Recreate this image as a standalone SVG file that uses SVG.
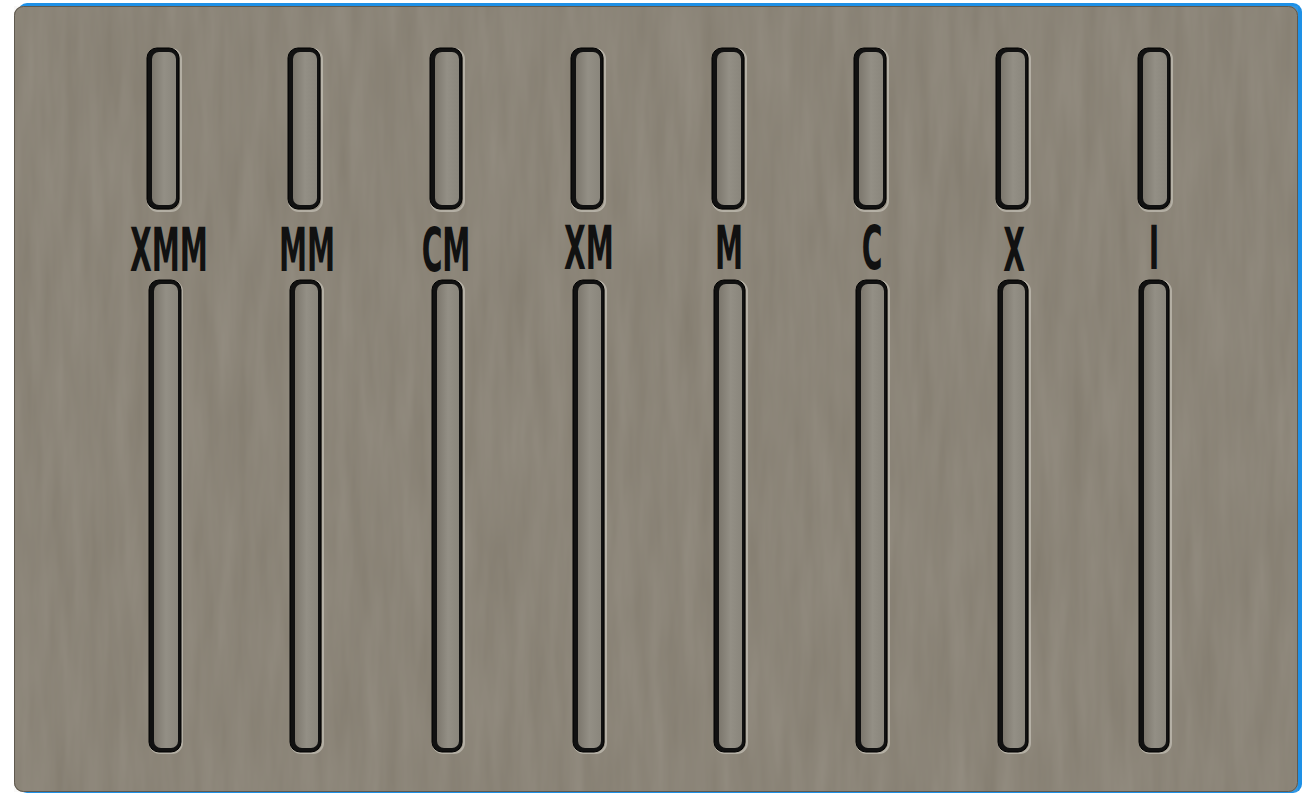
<svg xmlns="http://www.w3.org/2000/svg" width="1312" height="795" viewBox="0 0 1312 795">
<defs>
<filter id="grain" x="0" y="0" width="100%" height="100%">
<feTurbulence type="fractalNoise" baseFrequency="0.06 0.008" numOctaves="3" seed="4" result="n"/>
<feColorMatrix in="n" type="matrix" values="0 0 0 0 0.58  0 0 0 0 0.55  0 0 0 0 0.5  0 0 0 0.22 0"/>
</filter>
<linearGradient id="slotIn" x1="0" y1="0" x2="1" y2="0">
<stop offset="0" stop-color="#7c776d"/>
<stop offset="0.5" stop-color="#938f85"/>
<stop offset="1" stop-color="#8a867c"/>
</linearGradient>
<style>
.slot-hi{fill:none;stroke:#cfcbc1;stroke-width:2;opacity:0.6}
.slot-out{fill:#111;stroke:#000;stroke-width:1}
.slot-in{fill:url(#slotIn)}
.lbl{font-family:"DejaVu Sans","Liberation Sans",sans-serif;font-size:60px;font-weight:bold;fill:#111;text-anchor:middle}
</style>
</defs>
<rect x="18" y="3" width="1284" height="790" rx="9" fill="#1e90e6"/>
<rect x="14" y="6" width="1284" height="786" rx="9" fill="#847d70"/>
<rect x="14" y="6" width="1284" height="786" rx="9" filter="url(#grain)"/>
<rect x="14.5" y="6.5" width="1283" height="785" rx="9" fill="none" stroke="#5f594f" stroke-width="1"/>
<g id="col-XMM">
<rect class="slot-hi" x="148" y="49" width="33" height="162" rx="10"/>
<rect class="slot-out" x="147" y="48" width="32" height="161" rx="10"/>
<rect class="slot-in" x="152" y="52" width="24" height="153" rx="7"/>
<text class="lbl" transform="translate(169,271) scale(0.47,1)">XMM</text>
<rect class="slot-hi" x="150" y="281" width="32" height="472" rx="10"/>
<rect class="slot-out" x="149" y="280" width="32" height="472" rx="10"/>
<rect class="slot-in" x="154" y="284" width="24" height="464" rx="7"/>
</g>
<g id="col-MM">
<rect class="slot-hi" x="289" y="49" width="33" height="162" rx="10"/>
<rect class="slot-out" x="288" y="48" width="32" height="161" rx="10"/>
<rect class="slot-in" x="293" y="52" width="24" height="153" rx="7"/>
<text class="lbl" transform="translate(307,271) scale(0.47,1)">MM</text>
<rect class="slot-hi" x="291" y="281" width="32" height="472" rx="10"/>
<rect class="slot-out" x="290" y="280" width="31" height="472" rx="10"/>
<rect class="slot-in" x="295" y="284" width="23" height="464" rx="7"/>
</g>
<g id="col-CM">
<rect class="slot-hi" x="431" y="49" width="33" height="162" rx="10"/>
<rect class="slot-out" x="430" y="48" width="32" height="161" rx="10"/>
<rect class="slot-in" x="435" y="52" width="24" height="153" rx="7"/>
<text class="lbl" transform="translate(446,271) scale(0.47,1)">CM</text>
<rect class="slot-hi" x="433" y="281" width="31" height="472" rx="10"/>
<rect class="slot-out" x="432" y="280" width="30" height="472" rx="10"/>
<rect class="slot-in" x="437" y="284" width="22" height="464" rx="7"/>
</g>
<g id="col-XM">
<rect class="slot-hi" x="572" y="49" width="33" height="162" rx="10"/>
<rect class="slot-out" x="571" y="48" width="32" height="161" rx="10"/>
<rect class="slot-in" x="576" y="52" width="24" height="153" rx="7"/>
<text class="lbl" transform="translate(589,269) scale(0.47,1)">XM</text>
<rect class="slot-hi" x="574" y="281" width="32" height="472" rx="10"/>
<rect class="slot-out" x="573" y="280" width="31" height="472" rx="10"/>
<rect class="slot-in" x="578" y="284" width="23" height="464" rx="7"/>
</g>
<g id="col-M">
<rect class="slot-hi" x="713" y="49" width="33" height="162" rx="10"/>
<rect class="slot-out" x="712" y="48" width="32" height="161" rx="10"/>
<rect class="slot-in" x="717" y="52" width="24" height="153" rx="7"/>
<text class="lbl" transform="translate(729,269) scale(0.47,1)">M</text>
<rect class="slot-hi" x="715" y="281" width="32" height="472" rx="10"/>
<rect class="slot-out" x="714" y="280" width="31" height="472" rx="10"/>
<rect class="slot-in" x="719" y="284" width="23" height="464" rx="7"/>
</g>
<g id="col-C">
<rect class="slot-hi" x="855" y="49" width="33" height="162" rx="10"/>
<rect class="slot-out" x="854" y="48" width="32" height="161" rx="10"/>
<rect class="slot-in" x="859" y="52" width="24" height="153" rx="7"/>
<text class="lbl" transform="translate(872,269) scale(0.47,1)">C</text>
<rect class="slot-hi" x="857" y="281" width="32" height="472" rx="10"/>
<rect class="slot-out" x="856" y="280" width="31" height="472" rx="10"/>
<rect class="slot-in" x="861" y="284" width="23" height="464" rx="7"/>
</g>
<g id="col-X">
<rect class="slot-hi" x="997" y="49" width="33" height="162" rx="10"/>
<rect class="slot-out" x="996" y="48" width="32" height="161" rx="10"/>
<rect class="slot-in" x="1001" y="52" width="24" height="153" rx="7"/>
<text class="lbl" transform="translate(1014,271) scale(0.47,1)">X</text>
<rect class="slot-hi" x="999" y="281" width="31" height="472" rx="10"/>
<rect class="slot-out" x="998" y="280" width="30" height="472" rx="10"/>
<rect class="slot-in" x="1003" y="284" width="22" height="464" rx="7"/>
</g>
<g id="col-I">
<rect class="slot-hi" x="1139" y="49" width="33" height="162" rx="10"/>
<rect class="slot-out" x="1138" y="48" width="32" height="161" rx="10"/>
<rect class="slot-in" x="1143" y="52" width="24" height="153" rx="7"/>
<text class="lbl" transform="translate(1154,269) scale(0.47,1)">I</text>
<rect class="slot-hi" x="1140" y="281" width="31" height="472" rx="10"/>
<rect class="slot-out" x="1139" y="280" width="30" height="472" rx="10"/>
<rect class="slot-in" x="1144" y="284" width="22" height="464" rx="7"/>
</g>
</svg>
